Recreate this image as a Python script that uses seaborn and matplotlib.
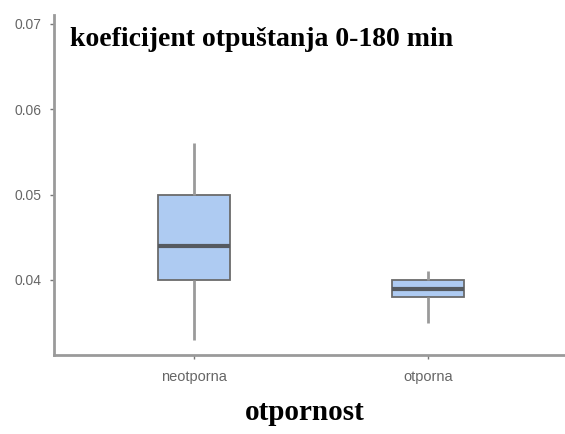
import matplotlib
matplotlib.use("Agg")
import matplotlib.pyplot as plt
import pandas as pd
import seaborn as sns

# five-number values (min, Q1, median, Q3, max)
categories = ["neotporna", "otporna"]
neotporna_values = [0.033, 0.040, 0.044, 0.050, 0.056]
otporna_values = [0.035, 0.038, 0.039, 0.040, 0.041]
y_ticks = [0.04, 0.05, 0.06, 0.07]

df = pd.DataFrame({
    "otpornost": [categories[0]] * len(neotporna_values) + [categories[1]] * len(otporna_values),
    "koeficijent": neotporna_values + otporna_values,
})

sns.set_style("white")

fig = plt.figure(figsize=(5.65, 4.34), dpi=100)
axes = fig.add_axes([0.0956, 0.182, 0.91, 0.7834])

sns.boxplot(
    data=df,
    x="otpornost",
    y="koeficijent",
    order=categories,
    color="#aecbf2",
    saturation=1,
    width=0.31,
    whis=(0, 100),
    linewidth=1.3,
    linecolor="#666666",
    boxprops={"edgecolor": "#6b6b6b"},
    whiskerprops={"color": "#9a9a9a", "linewidth": 2},
    capprops={"visible": False},
    medianprops={"color": "#555a60", "linewidth": 3},
    ax=axes,
)

axes.set_xlim(-0.6, 1.6)
axes.set_ylim(0.03121, 0.07105)
axes.set_yticks(y_ticks)
axes.set_yticklabels([f"{t:.2f}" for t in y_ticks])

for spine_position in ["top", "right"]:
    axes.spines[spine_position].set_visible(False)
for spine_position in ["left", "bottom"]:
    axes.spines[spine_position].set_color("#9a9a9a")
    axes.spines[spine_position].set_linewidth(2)

axes.tick_params(axis="both", length=3, width=1, color="#777777",
                 labelcolor="#666666", left=True, bottom=True)
axes.tick_params(axis="y", labelsize=10, pad=6)
axes.tick_params(axis="x", labelsize=10.5, pad=8)
for label in axes.get_xticklabels() + axes.get_yticklabels():
    label.set_family("Liberation Sans")

axes.set_xlabel("")
axes.set_ylabel("")

fig.text(70 / 565, 1 - 40 / 434, "koeficijent otpuštanja 0-180 min",
         family="Liberation Serif", fontweight="bold", fontsize=20,
         ha="left", va="center", color="black")
fig.text(305 / 565, 1 - 412 / 434, "otpornost",
         family="Liberation Serif", fontweight="bold", fontsize=21,
         ha="center", va="center", color="black")

fig.savefig("out.png", dpi=100)
